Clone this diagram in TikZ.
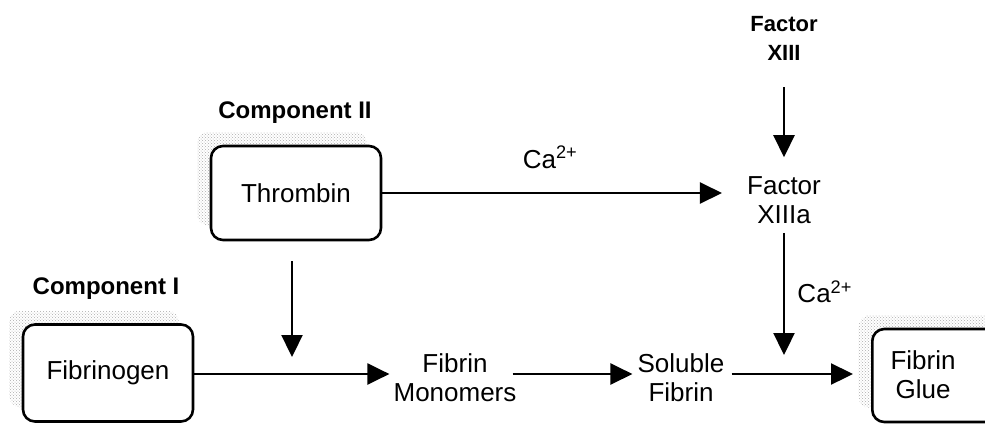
\documentclass[tikz,border=0pt]{standalone}
\usepackage{fontspec}
\setmainfont{Liberation Sans}
\usetikzlibrary{arrows.meta,patterns,shadows}

\begin{document}
\begin{tikzpicture}[x=1pt,y=-1pt,
  txt/.style={font=\fontsize{26}{29}\selectfont, align=center, inner sep=0pt},
  comp/.style={font=\fontsize{24}{29}\bfseries\selectfont, inner sep=0pt},
  fac/.style={font=\fontsize{22}{29}\bfseries\selectfont, align=center, inner sep=0pt},
  stagebox/.style={draw, line width=2.6pt, rounded corners=12pt, fill=white,
    minimum width=170pt, inner sep=0pt, font=\fontsize{26}{29}\selectfont, align=center,
    general shadow={shadow xshift=-14pt, shadow yshift=14pt,
      pattern=crosshatch dots, pattern color=gray!65}},
  flow/.style={line width=2.3pt, -{Triangle[length=22pt,width=21pt]}}
]
\useasboundingbox (0,0) rectangle (985,424);
\clip (0,0) rectangle (985,424);

% source boxes
\node[stagebox, minimum height=94pt] (th) at (296,193) {Thrombin};
\node[stagebox, minimum height=97pt] (fib) at (108,373) {Fibrinogen};
\node[stagebox, minimum height=93pt, anchor=west] (glue) at (871,375.5) {};
\node[txt] (gluetxt) at (923,375) {Fibrin\\Glue};

% component labels
\node[comp, anchor=base] (c2) at (295,118) {Component II};
\node[comp, anchor=base] (c1) at (106,294) {Component I};

% factor XIII branch
\node[fac] (xiii) at (784,38) {Factor\\XIII};
\node[txt] (xiiia) at (784,200) {Factor\\XIIIa};

% fibrin intermediates
\node[txt] (fm) at (455,378) {Fibrin\\Monomers};
\node[txt] (sf) at (681,378) {Soluble\\Fibrin};

% meeting points of the vertical arrows on the lower row
\coordinate (thdrop) at (292,357);
\coordinate (xdrop) at (784,355);

% lower row
\coordinate (row) at (0,374);
\draw[flow, shorten >=4pt] (fib.east |- row) -- (row -| fm.west);
\draw[flow, shorten <=-4pt, shorten >=5pt] (row -| fm.east) -- (row -| sf.west);
\draw[flow, shorten <=7pt, shorten >=18pt] (row -| sf.east) -- (row -| glue.west);

% thrombin branch
\draw[flow, shorten <=20pt] (th.south -| thdrop) -- (thdrop);
\draw[flow, shorten >=25pt] (th.east) -- (th.east -| xiiia.west)
  node[pos=0.46, anchor=base, yshift=25pt] (ca1) {\fontsize{26}{29}\selectfont Ca\textsuperscript{2+}};

% factor XIII activation
\draw[flow, shorten <=27pt, shorten >=19pt] (xiii.south) -- (xiiia.north);
\draw[flow, shorten <=9pt] (xiiia.south) -- (xdrop)
  node[pos=0.6, anchor=base west, xshift=9pt] (ca2) {\fontsize{26}{29}\selectfont Ca\textsuperscript{2+}};
\end{tikzpicture}
\end{document}
